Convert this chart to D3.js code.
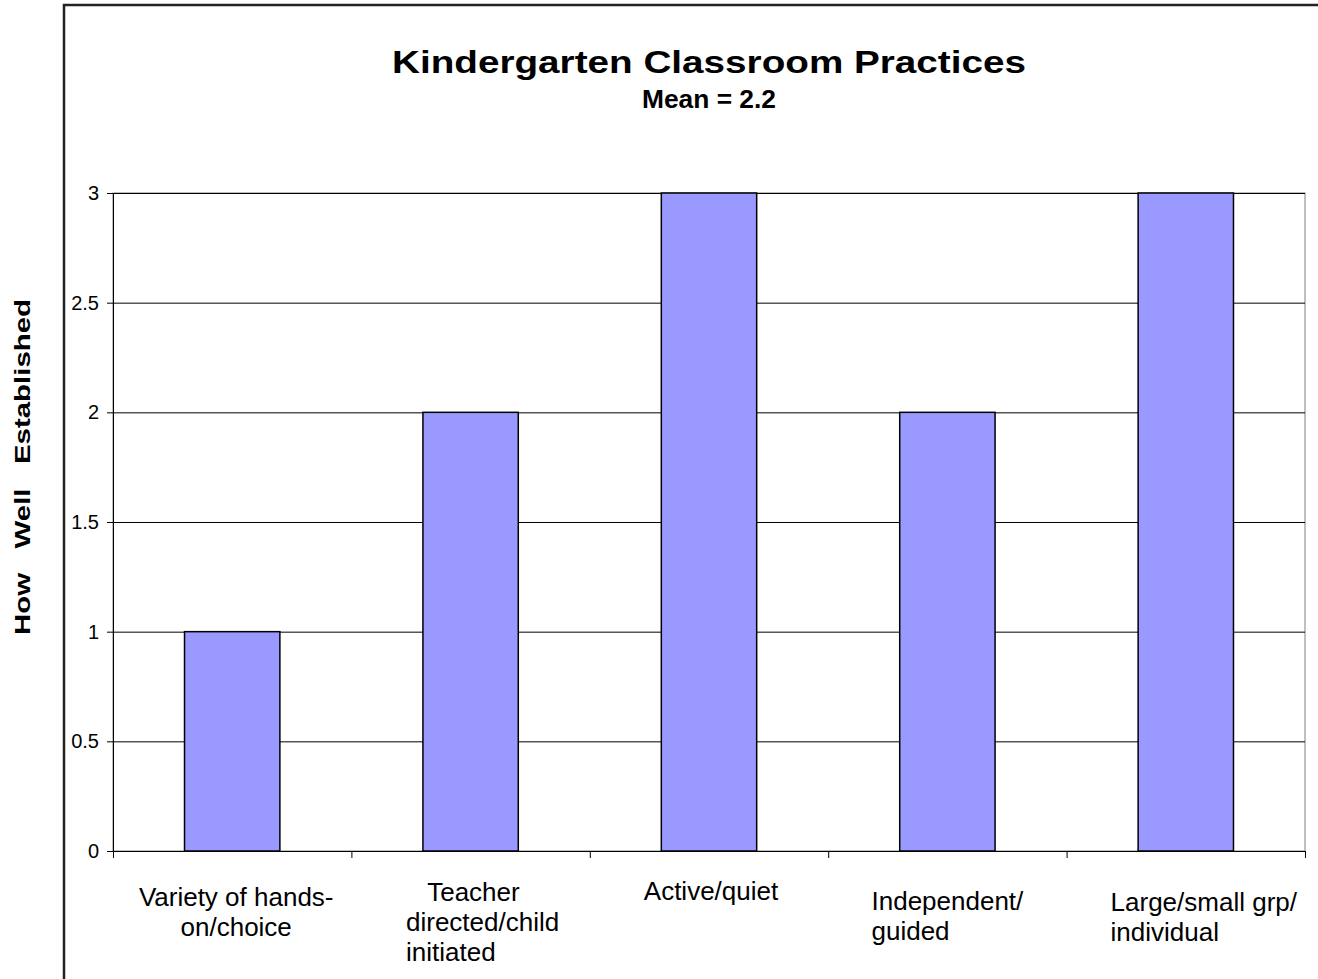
<!DOCTYPE html>
<html>
<head>
<meta charset="utf-8">
<script src="https://cdn.jsdelivr.net/npm/d3@7"></script>
<style>
  html, body { margin: 0; padding: 0; background: #fff; }
  svg { display: block; font-family: Arial, "Liberation Sans", sans-serif; }
</style>
</head>
<body>
<svg id="chart" width="1318" height="979"></svg>
<script>
const categories = [
  "Variety of hands-on/choice",
  "Teacher directed/child initiated",
  "Active/quiet",
  "Independent/guided",
  "Large/small grp/individual",
]
const categoryLines = [
  ["Variety of hands-", "on/choice"],
  ["   Teacher", "directed/child", "initiated"],
  ["Active/quiet"],
  ["Independent/", "guided"],
  ["Large/small grp/", "individual"],
]
const values = [1, 2, 3, 2, 3]
const yTicks = [0, 0.5, 1, 1.5, 2, 2.5, 3]
const title = "Kindergarten Classroom Practices"
const subtitle = "Mean = 2.2"
const yTitle = "How   Well   Established"

// label layout: alignment of the wrapped lines + small nudges, like Excel did it
const labelLayout = [
  {align: "middle", dx: 4, dy: 3},
  {align: "start", dx: 12, dy: -2},
  {align: "middle", dx: 2, dy: -3},
  {align: "start", dx: 0, dy: 7},
  {align: "start", dx: 18, dy: 8},
]

const W = 1318, H = 979
const m = {top: 193, right: 13, bottom: 128, left: 113}
const iw = W - m.left - m.right
const ih = H - m.top - m.bottom

const svg = d3.select("#chart")

// outer chart frame (runs off the right/bottom edge)
svg.append("rect")
  .attr("x", 64).attr("y", 5)
  .attr("width", W + 20).attr("height", H + 20)
  .attr("fill", "none").attr("stroke", "#222").attr("stroke-width", 2.5)

// the original renderer drew the headings wider than the font would, so stretch them
svg.append("text")
  .attr("x", m.left + iw / 2).attr("y", 73)
  .attr("text-anchor", "middle")
  .attr("font-size", 32).attr("font-weight", "bold")
  .attr("textLength", 634).attr("lengthAdjust", "spacingAndGlyphs")
  .text(title)

svg.append("text")
  .attr("x", m.left + iw / 2).attr("y", 108)
  .attr("text-anchor", "middle")
  .attr("font-size", 25).attr("font-weight", "bold")
  .attr("textLength", 134).attr("lengthAdjust", "spacingAndGlyphs")
  .text(subtitle)

const g = svg.append("g").attr("transform", `translate(${m.left},${m.top})`)

const x = d3.scaleBand().domain(categories).range([0, iw]).paddingInner(0.6).paddingOuter(0.3)
const y = d3.scaleLinear().domain([0, 3]).range([ih, 0])

// plot area border (grey)
g.append("rect")
  .attr("width", iw).attr("height", ih)
  .attr("fill", "none").attr("stroke", "#808080").attr("stroke-width", 1)

// gridlines
g.append("g")
  .selectAll("line")
  .data(yTicks.filter((d) => d > 0))
  .join("line")
  .attr("x1", 0).attr("x2", iw)
  .attr("y1", (d) => y(d) + 0.5).attr("y2", (d) => y(d) + 0.5)
  .attr("stroke", "#000").attr("stroke-width", 1)

g.append("g")
  .selectAll("rect")
  .data(values)
  .join("rect")
  .attr("x", (d, i) => x(categories[i]))
  .attr("y", (d) => y(d))
  .attr("width", x.bandwidth())
  .attr("height", (d) => ih - y(d))
  .attr("fill", "#9999FF")
  .attr("stroke", "#000").attr("stroke-width", 1.5)

// y axis
g.append("g")
  .call(d3.axisLeft(y).tickValues(yTicks).tickSize(6).tickPadding(8).tickFormat(d3.format("")))
  .call((gg) => gg.select(".domain").attr("stroke", "#000"))
  .call((gg) => gg.selectAll("text").attr("font-size", 20).attr("font-family", "Arial, 'Liberation Sans', sans-serif").attr("fill", "#000"))

// x axis: ticks at category boundaries
const step = x.step()
const xBounds = d3.range(categories.length + 1).map((i) => i * step)
const xa = g.append("g").attr("transform", `translate(0,${ih})`)
xa.append("line").attr("x1", 0).attr("x2", iw).attr("y1", 0.5).attr("y2", 0.5).attr("stroke", "#000")
xa.selectAll("line.tick")
  .data(xBounds)
  .join("line")
  .attr("class", "tick")
  .attr("x1", (d) => d + 0.5).attr("x2", (d) => d + 0.5)
  .attr("y1", 0).attr("y2", 7)
  .attr("stroke", "#000")

// category labels
categories.forEach((c, i) => {
  const lay = labelLayout[i]
  const cx = x(c) + x.bandwidth() / 2 + lay.dx
  const t = xa.append("text")
    .attr("font-size", 26)
    .attr("fill", "#000")
    .attr("xml:space", "preserve")
    .style("white-space", "pre")
    .attr("text-anchor", lay.align)
  categoryLines[i].forEach((line, k) => {
    t.append("tspan").attr("data-k", k).text(line)
  })
  let left = cx
  if (lay.align === "start") {
    const widest = d3.max(t.selectAll("tspan").nodes(), (n) => n.getComputedTextLength())
    left = cx - widest / 2
  }
  t.selectAll("tspan")
    .attr("x", left)
    .attr("y", (d, k, nodes) => 52 + lay.dy + (+nodes[k].getAttribute("data-k")) * 30)
})

// y axis title
svg.append("text")
  .attr("transform", `translate(30,467) rotate(-90)`)
  .attr("text-anchor", "middle")
  .attr("font-size", 22).attr("font-weight", "bold")
  .attr("xml:space", "preserve")
  .style("white-space", "pre")
  .attr("textLength", 336).attr("lengthAdjust", "spacingAndGlyphs")
  .text(yTitle)
</script>
</body>
</html>
